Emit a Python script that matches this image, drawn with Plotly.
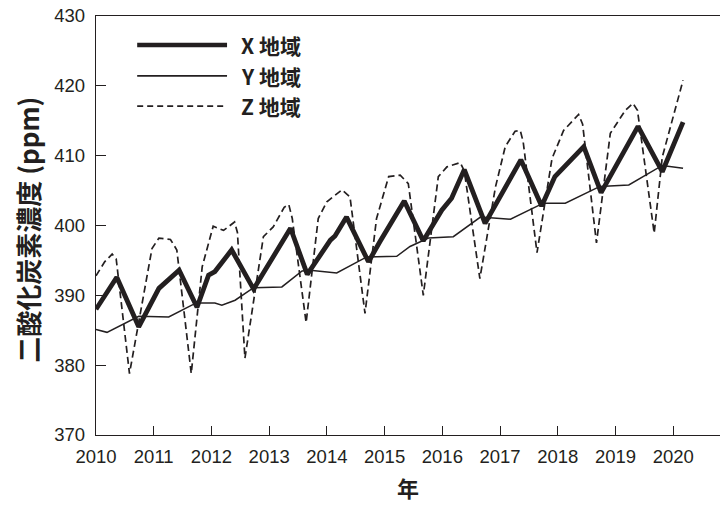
import plotly.graph_objects as go

# Monthly-ish CO2 readings (ppm) for three regions
x_years = [2010.00, 2010.36, 2010.74, 2011.09, 2011.44, 2011.75, 2011.95, 2012.06,
           2012.35, 2012.73, 2013.37, 2013.66, 2014.06, 2014.14, 2014.34, 2014.72,
           2014.92, 2015.12, 2015.34, 2015.67, 2015.99, 2016.16, 2016.38, 2016.74,
           2017.36, 2017.72, 2017.95, 2018.45, 2018.75, 2019.39, 2019.81, 2020.17]
x_vals = [388.0, 392.6, 385.5, 391.0, 393.6, 388.3, 392.9, 393.4,
          396.5, 390.9, 399.6, 393.0, 397.9, 398.5, 401.2, 394.8,
          397.7, 400.4, 403.5, 397.8, 402.2, 403.9, 408.0, 400.3,
          409.4, 402.8, 407.0, 411.3, 404.7, 414.2, 407.7, 414.8]

y_years = [2010.00, 2010.19, 2010.74, 2011.09, 2011.26, 2011.66, 2011.75, 2012.06,
           2012.18, 2012.41, 2012.73, 2013.22, 2013.57, 2013.71, 2014.17, 2014.69,
           2015.21, 2015.44, 2015.76, 2016.19, 2016.66, 2017.18, 2017.75, 2018.13,
           2018.73, 2019.23, 2019.81, 2020.17]
y_vals = [385.1, 384.7, 387.0, 387.0, 386.9, 388.6, 388.9, 388.9,
          388.6, 389.3, 391.1, 391.2, 393.5, 393.6, 393.2, 395.5,
          395.6, 397.0, 398.2, 398.4, 401.2, 400.9, 403.2, 403.2,
          405.6, 405.8, 408.6, 408.2]

z_years = [2010.00, 2010.15, 2010.28, 2010.35, 2010.58, 2010.97, 2011.09, 2011.29,
           2011.40, 2011.65, 2011.84, 2012.03, 2012.21, 2012.40, 2012.45, 2012.58,
           2012.90, 2013.07, 2013.26, 2013.34, 2013.40, 2013.64, 2013.85, 2014.00,
           2014.26, 2014.40, 2014.66, 2014.86, 2015.07, 2015.27, 2015.41, 2015.67,
           2015.93, 2016.08, 2016.31, 2016.38, 2016.65, 2016.92, 2017.09, 2017.26,
           2017.35, 2017.40, 2017.64, 2017.90, 2018.10, 2018.36, 2018.43, 2018.67,
           2018.91, 2019.17, 2019.30, 2019.38, 2019.67, 2019.81, 2020.17]
z_vals = [392.8, 394.8, 395.9, 395.2, 378.8, 396.7, 398.2, 398.0,
          396.5, 378.8, 394.1, 399.9, 399.3, 400.5, 399.0, 381.0,
          398.4, 399.8, 402.6, 403.0, 401.0, 386.1, 401.0, 403.4,
          405.1, 404.1, 387.4, 401.0, 407.0, 407.2, 406.0, 390.0,
          407.0, 408.4, 409.0, 407.8, 392.4, 405.5, 411.3, 413.5,
          413.6, 412.0, 396.1, 409.6, 413.6, 415.9, 414.5, 397.5,
          413.2, 416.5, 417.5, 416.5, 398.9, 409.8, 420.8]

year_ticks = list(range(2010, 2021))
ppm_ticks = [370, 380, 390, 400, 410, 420, 430]
legend_labels = ["X 地域", "Y 地域", "Z 地域"]

INK = "#231f20"
LATIN = "Liberation Sans, Arial, Noto Sans CJK JP"
CJK = "Noto Sans CJK JP, Liberation Sans"

fig = go.Figure()
fig.add_trace(go.Scatter(x=x_years, y=x_vals, mode="lines", name=legend_labels[0],
                         line=dict(color=INK, width=4.8)))
fig.add_trace(go.Scatter(x=y_years, y=y_vals, mode="lines", name=legend_labels[1],
                         line=dict(color=INK, width=1.5)))
fig.add_trace(go.Scatter(x=z_years, y=z_vals, mode="lines", name=legend_labels[2],
                         line=dict(color=INK, width=1.7, dash="7px,4px")))

# Hand-drawn legend: long sample lines with labels to the right
legend_rows = [0.931, 0.857, 0.785]
legend_styles = [dict(width=4.5), dict(width=1.7), dict(width=1.6, dash="6px,4px")]
for label, yy, st in zip(legend_labels, legend_rows, legend_styles):
    fig.add_shape(type="line", xref="paper", yref="paper",
                  x0=0.066, x1=0.210, y0=yy, y1=yy,
                  line=dict(color=INK, **st))
    fig.add_annotation(text=label, xref="paper", yref="paper", x=0.229, y=yy,
                       xanchor="left", yanchor="middle", showarrow=False,
                       font=dict(family=CJK, size=21, color=INK, weight="bold"))

fig.add_annotation(text="二酸化炭素濃度 (ppm)", xref="paper", yref="paper",
                   x=0, y=0.49, xshift=-68, textangle=-90,
                   xanchor="center", yanchor="middle", showarrow=False,
                   font=dict(family=CJK, size=26, color=INK, weight="bold"))
fig.add_annotation(text="年", xref="paper", yref="paper",
                   x=(408 - 96) / 624, y=0, yshift=-52,
                   xanchor="center", yanchor="middle", showarrow=False,
                   font=dict(family=CJK, size=22, color=INK, weight="bold"))

fig.update_xaxes(range=[2010, 2020.81], tickvals=year_ticks,
                 ticks="inside", ticklen=9, tickwidth=1.2, tickcolor=INK,
                 showline=True, linecolor=INK, linewidth=1.3, mirror=True,
                 showgrid=False, zeroline=False, ticklabelstandoff=5,
                 tickfont=dict(family=LATIN, size=18.5, color=INK))
fig.update_yaxes(range=[370, 430], tickvals=ppm_ticks,
                 ticks="inside", ticklen=10, tickwidth=1.2, tickcolor=INK,
                 showline=True, linecolor=INK, linewidth=1.3,
                 showgrid=False, zeroline=False, ticklabelstandoff=6,
                 tickfont=dict(family=LATIN, size=18.5, color=INK))

fig.update_layout(width=720, height=505, showlegend=False,
                  margin=dict(l=96, r=0, t=16, b=70),
                  plot_bgcolor="white", paper_bgcolor="white")

fig.write_html("out.html")
